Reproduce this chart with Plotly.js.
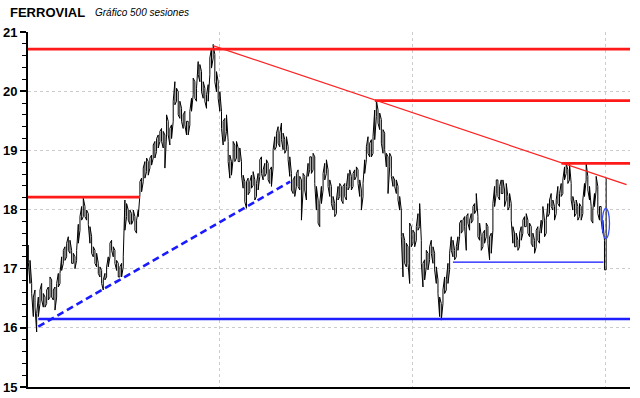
<!DOCTYPE html>
<html>
<head>
<meta charset="utf-8">
<script src="https://cdn.plot.ly/plotly-3.0.1.min.js"></script>
<style>html,body{margin:0;padding:0;background:#fff;}#chart{width:640px;height:398px;}</style>
</head>
<body>
<div id="chart"></div>
<script>
// ---- price data (session highs / lows, 348 samples over 500 sessions) ----
const nSessions = 500;
const highs = [
17.40,17.14,16.75,16.52,16.64,16.24,16.52,16.64,16.75,16.58,16.52,16.64,16.69,16.86,16.81,16.64,16.69,16.75,16.92,16.92,
17.20,17.31,17.37,17.43,17.54,17.48,17.31,17.26,17.20,17.31,17.75,17.88,18.05,18.19,18.05,17.99,17.93,17.71,17.54,17.37,
17.31,17.26,17.09,17.03,16.97,16.81,16.92,17.03,17.20,17.43,17.48,17.37,17.31,17.14,17.09,17.03,17.09,17.20,18.16,18.10,
17.99,17.99,17.93,17.99,17.88,17.82,17.99,
18.47,18.53,18.70,18.81,18.87,18.81,18.87,18.92,19.09,19.15,19.20,19.26,19.32,19.37,19.32,19.26,19.60,19.49,19.37,19.43,
19.83,20.16,20.05,19.99,19.83,19.71,19.60,19.66,19.49,19.49,19.66,19.88,20.22,20.16,20.05,20.50,20.45,20.33,20.16,20.05,
19.94,20.11,20.56,20.73,20.79,20.62,20.33,20.16,19.99,19.66,19.49,19.54,19.60,19.15,18.92,18.81,19.15,19.09,19.15,19.04,
19.04,18.81,18.58,18.47,18.47,18.53,18.47,18.58,18.64,
18.50,18.44,18.61,18.84,18.89,18.67,18.78,18.84,18.78,18.67,18.72,19.01,19.23,19.29,19.40,19.29,19.46,19.29,19.18,19.23,
19.06,18.89,18.61,18.50,18.56,18.61,18.67,18.56,18.50,18.61,18.56,18.50,18.78,18.89,18.89,18.95,18.89,18.39,18.16,18.10,
18.39,18.61,18.78,18.84,18.67,18.50,18.39,18.22,18.10,18.16,18.39,18.44,18.39,18.39,18.44,18.39,18.61,18.67,18.56,18.61,
18.67,18.72,18.67,18.50,18.33,18.44,18.84,19.06,19.23,
19.12,19.18,19.23,19.68,19.85,19.68,19.63,19.52,19.35,19.29,18.95,18.89,18.95,18.89,18.56,18.50,18.50,18.39,18.22,17.99,
17.60,17.48,17.43,17.37,17.77,17.71,17.65,17.60,17.71,17.93,18.10,17.48,17.09,17.15,17.31,17.26,17.37,17.48,17.37,17.26,
17.03,16.81,16.52,16.41,16.64,16.86,16.81,17.09,17.26,17.54,17.48,17.31,17.37,17.54,17.77,17.82,17.82,17.88,17.88,17.93,
17.82,17.93,18.05,18.10,18.27,17.88,17.77,17.54,17.60,17.65,17.77,17.71,
17.54,17.60,18.10,18.39,18.50,18.50,18.39,18.50,18.50,18.33,18.44,18.22,18.27,18.10,17.71,17.60,17.60,17.48,17.60,17.71,
17.82,17.88,17.93,17.82,17.77,17.71,17.60,17.48,17.65,17.71,17.60,17.82,18.05,17.82,17.82,18.10,18.16,18.27,18.16,18.05,
18.16,18.39,18.27,18.44,18.50,18.72,18.78,18.67,18.78,18.44,18.22,18.10,18.16,18.05,18.10,18.05,18.16,18.44,18.78,18.56,
18.39,18.05,17.99,18.27,18.56,18.39,18.05,18.05,17.82,17.48,18.53
];
const lows = [
17.10,16.75,16.58,16.19,16.35,15.93,16.19,16.41,16.47,16.35,16.35,16.41,16.47,16.52,16.52,16.47,16.30,16.52,16.69,16.75,
16.97,17.09,17.14,17.20,17.31,17.26,17.09,17.09,17.00,17.14,17.43,17.65,17.82,17.88,17.88,17.82,17.75,17.43,17.26,17.20,
17.09,17.03,16.92,16.86,16.75,16.64,16.81,16.86,17.03,17.20,17.31,17.20,17.09,16.97,16.86,16.86,16.86,17.03,17.65,17.88,
17.82,17.75,17.75,17.82,17.65,17.60,17.88,
18.25,18.30,18.47,18.53,18.64,18.58,18.70,18.75,18.87,18.87,18.98,19.04,19.15,19.15,19.04,18.70,19.26,19.26,19.09,19.20,
19.49,19.77,19.83,19.60,19.54,19.49,19.37,19.43,19.26,19.26,19.43,19.66,19.94,19.88,19.83,20.28,20.16,19.99,19.88,19.83,
19.71,19.83,20.28,20.39,20.56,20.16,19.99,19.88,19.66,19.37,19.09,19.15,19.32,18.81,18.53,18.58,18.87,18.81,18.87,18.81,
18.81,18.58,18.36,18.13,18.02,18.25,18.30,18.36,18.41,
18.16,18.22,18.33,18.56,18.61,18.50,18.56,18.61,18.50,18.44,18.39,18.72,19.01,19.06,19.12,19.06,19.18,19.01,18.95,19.01,
18.84,18.56,18.33,18.27,18.22,18.39,18.39,18.33,17.82,18.33,18.33,18.16,18.56,18.67,18.61,18.67,18.44,17.99,17.77,17.71,
18.10,18.33,18.50,18.61,18.39,18.22,18.10,17.99,17.88,17.93,18.16,18.22,18.16,18.10,18.22,18.16,18.33,18.39,18.33,18.39,
18.50,18.56,18.44,18.22,17.99,18.22,18.61,18.84,18.95,
18.89,18.89,18.95,19.18,19.57,19.46,19.35,19.12,18.95,19.01,18.72,18.27,18.72,18.56,18.39,18.39,18.27,18.16,17.99,17.54,
16.86,17.09,17.03,17.09,16.75,17.37,17.43,17.37,17.48,17.65,17.71,17.09,16.69,16.81,17.03,16.98,17.15,17.26,17.09,16.98,
16.75,16.58,16.19,16.13,16.41,16.58,16.64,16.75,16.98,17.31,17.20,17.15,17.20,17.31,17.54,17.60,17.65,17.71,17.31,17.77,
17.65,17.77,17.82,17.93,17.99,17.54,17.48,17.31,17.37,17.43,17.54,17.43,
17.15,17.26,17.65,18.05,18.27,18.22,18.16,18.27,18.27,18.05,18.16,17.99,18.05,17.82,17.43,17.37,17.37,17.31,17.37,17.48,
17.60,17.71,17.71,17.60,17.54,17.43,17.37,17.26,17.37,17.48,17.43,17.60,17.82,17.54,17.60,17.88,17.93,18.05,17.99,17.82,
17.93,18.10,18.05,18.22,18.27,18.50,18.61,18.44,18.50,18.16,17.99,17.88,17.93,17.82,17.88,17.82,17.93,18.22,18.50,18.33,
18.16,17.82,17.77,18.05,18.33,17.93,17.82,17.82,17.60,16.98,16.98
];

// ---- chart annotations: support / resistance levels (price, start session, end session) ----
const redLevels = [20.71, 18.21, 19.84, 18.78];
const redStart  = [-0.3, -0.3, 299.2, 460.4];
const redEnd    = [519.6, 96.4, 519.6, 519.6];
const redTrendX = [159.4, 516.6];
const redTrendY = [20.77, 18.42];
const blueLevels = [16.15, 17.11];
const blueStart  = [8.6, 366.7];
const blueEnd    = [519.6, 496.7];
const blueTrendX = [8.6, 226.1];
const blueTrendY = [16.02, 18.47];
const ellipseX = [495.6, 501.9];
const ellipseY = [17.51, 18.02];

// axes
const gridSessions = [165.4, 331.9, 498.4];
const yLabels = [15, 16, 17, 18, 19, 20, 21];
const titleMain = 'FERROVIAL';
const titleSub = 'Gráfico 500 sesiones';

// build the zig-zag bar path
const px = [], py = [];
const n = highs.length;
for (let i = 0; i < n; i++) {
  const s = i * (nSessions - 1) / (n - 1);
  if (i % 2 === 0) { px.push(s, s); py.push(highs[i], lows[i]); }
  else { px.push(s, s); py.push(lows[i], highs[i]); }
}

const traces = [{
  type: 'scatter', mode: 'lines', x: px, y: py,
  line: {color: '#000000', width: 1.0}, hoverinfo: 'skip', showlegend: false
}];

function hline(y, x0, x1, color, width, dash) {
  traces.push({type: 'scatter', mode: 'lines', x: [x0, x1], y: [y, y],
    line: {color: color, width: width, dash: dash || 'solid'}, hoverinfo: 'skip', showlegend: false});
}
for (let i = 0; i < redLevels.length; i++) hline(redLevels[i], redStart[i], redEnd[i], '#ff1a1a', 2.6);
traces.push({type: 'scatter', mode: 'lines', x: redTrendX, y: redTrendY,
  line: {color: '#ff2020', width: 1.2}, hoverinfo: 'skip', showlegend: false});
hline(blueLevels[0], blueStart[0], blueEnd[0], '#1e1eff', 2.6);
hline(blueLevels[1], blueStart[1], blueEnd[1], '#1010ff', 1.3);
traces.push({type: 'scatter', mode: 'lines', x: blueTrendX, y: blueTrendY,
  line: {color: '#1a1aff', width: 2.6, dash: '7px,4px'}, hoverinfo: 'skip', showlegend: false});

const layout = {
  width: 640, height: 398,
  margin: {l: 28, r: 10, t: 32, b: 11, pad: 0},
  paper_bgcolor: '#ffffff', plot_bgcolor: '#ffffff',
  showlegend: false,
  annotations: [
    {text: '<b>' + titleMain + '</b>', xref: 'paper', yref: 'paper', x: -20 / 602, y: 1 + 20 / 355,
     xanchor: 'left', yanchor: 'middle', showarrow: false,
     font: {family: 'Liberation Sans, Arial, sans-serif', size: 13, color: '#000000'}},
    {text: '<i>' + titleSub + '</i>', xref: 'paper', yref: 'paper', x: 65 / 602, y: 1 + 20 / 355,
     xanchor: 'left', yanchor: 'middle', showarrow: false,
     font: {family: 'Liberation Sans, Arial, sans-serif', size: 10, color: '#000000'}}
  ],
  xaxis: {
    range: [-0.3, 519.6], tickmode: 'array', tickvals: gridSessions, showticklabels: false, ticks: '',
    showgrid: true, gridcolor: '#cccccc', griddash: 'dot', gridwidth: 1,
    showline: true, linecolor: '#000000', linewidth: 1.5, zeroline: false, fixedrange: true
  },
  yaxis: {
    range: [15, 21], tickmode: 'linear', tick0: 15, dtick: 1,
    ticks: 'outside', ticklen: 6, tickwidth: 1.5, tickcolor: '#000000',
    tickfont: {family: 'Liberation Sans, Arial, sans-serif', size: 13, color: '#000000', weight: 'bold'},
    showgrid: true, gridcolor: '#cccccc', griddash: 'dot', gridwidth: 1,
    showline: true, linecolor: '#000000', linewidth: 2, zeroline: false,
    minor: {dtick: 0.2, ticks: 'outside', ticklen: 4, tickwidth: 1, tickcolor: '#000000', showgrid: false},
    fixedrange: true
  },
  shapes: [{
    type: 'circle', xref: 'x', yref: 'y',
    x0: ellipseX[0], x1: ellipseX[1], y0: ellipseY[0], y1: ellipseY[1],
    line: {color: '#3a50ff', width: 1.3}, fillcolor: 'rgba(0,0,0,0)'
  }]
};

Plotly.newPlot('chart', traces, layout, {staticPlot: true, displayModeBar: false});
</script>
</body>
</html>
